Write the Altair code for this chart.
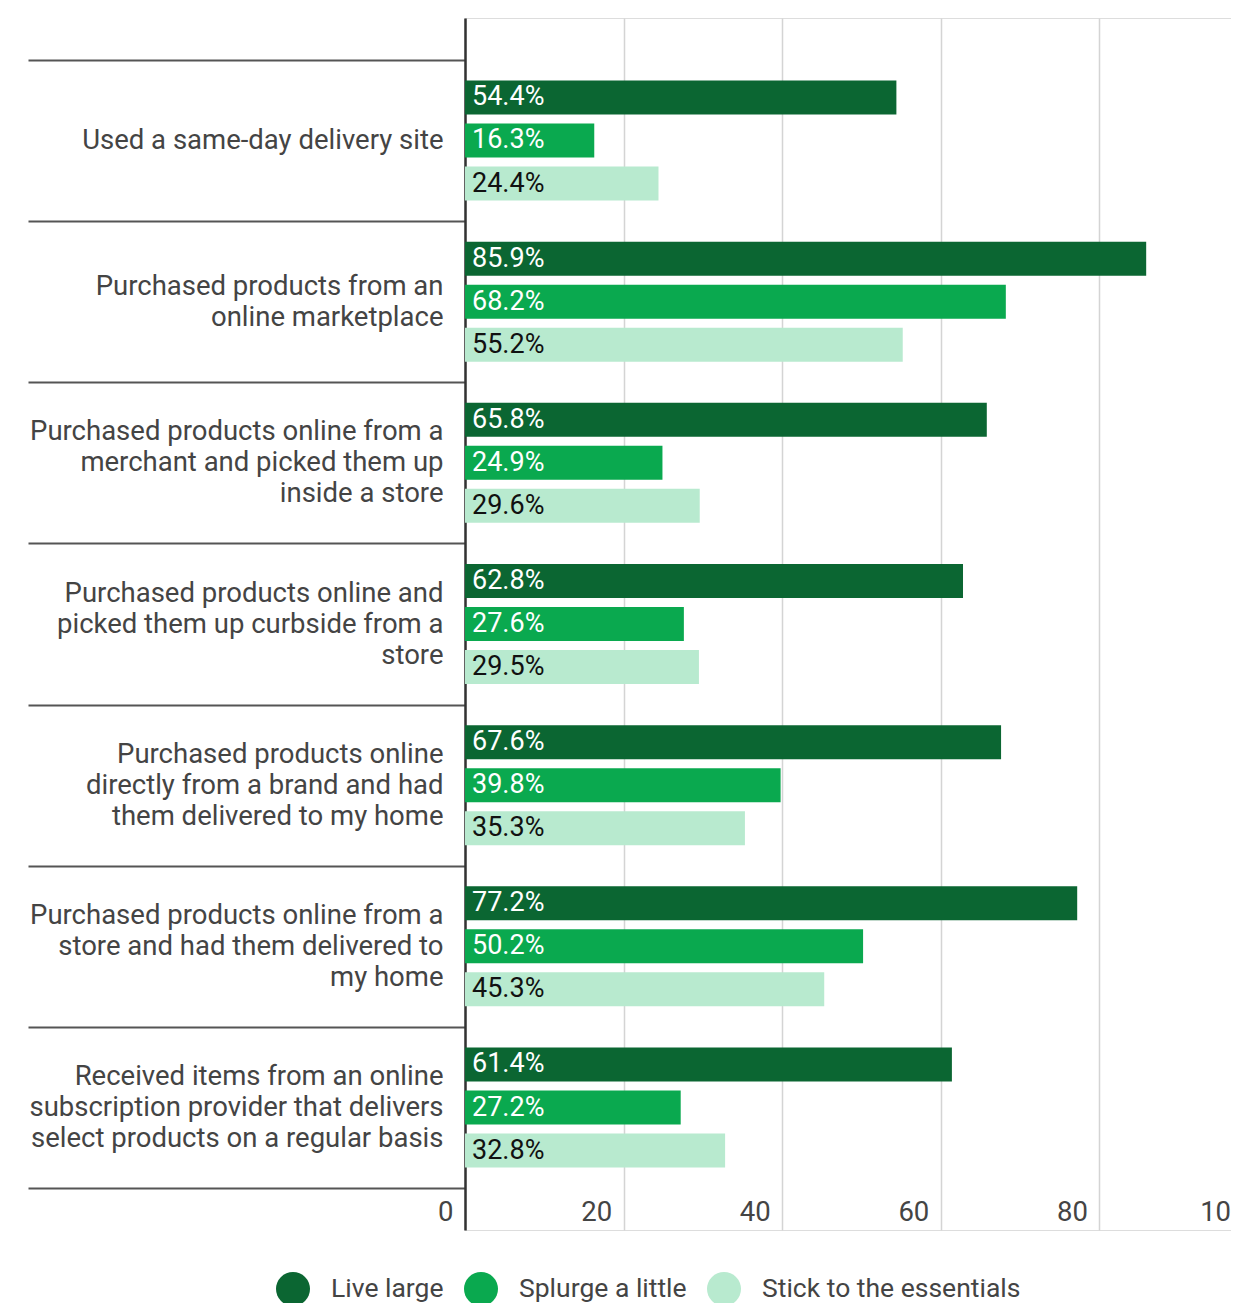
import altair as alt
import pandas as pd

categories = [
    "Used a same-day delivery site",
    "Purchased products from an|online marketplace",
    "Purchased products online from a|merchant and picked them up|inside a store",
    "Purchased products online and|picked them up curbside from a|store",
    "Purchased products online|directly from a brand and had|them delivered to my home",
    "Purchased products online from a|store and had them delivered to|my home",
    "Received items from an online|subscription provider that delivers|select products on a regular basis",
]
series = ["Live large", "Splurge a little", "Stick to the essentials"]
live_large = [54.4, 85.9, 65.8, 62.8, 67.6, 77.2, 61.4]
splurge_a_little = [16.3, 68.2, 24.9, 27.6, 39.8, 50.2, 27.2]
stick_to_essentials = [24.4, 55.2, 29.6, 29.5, 35.3, 45.3, 32.8]
colors = ["#0b6632", "#0aa94f", "#b8eacf"]
label_colors = ["#ffffff", "#ffffff", "#111111"]
x_ticks = [0, 20, 40, 60, 80, 100]

rows = []
for i, c in enumerate(categories):
    for s, vals, tc in zip(series, [live_large, splurge_a_little, stick_to_essentials], label_colors):
        rows.append({"category": c, "series": s, "value": vals[i],
                     "label": f"{vals[i]:.1f}%", "tcolor": tc})
df = pd.DataFrame(rows)

FONT = "Roboto"
LINE_H = 31

y_enc = alt.Y(
    "category:N",
    sort=categories,
    scale=alt.Scale(paddingInner=0, paddingOuter=0.26),
    axis=alt.Axis(
        title=None,
        tickBand="extent",
        tickSize=437,
        tickColor="#555555",
        tickWidth=2,
        domainColor="#333333",
        domainWidth=2.5,
        labelPadding=-415,
        labelFont=FONT,
        labelFontSize=27.5,
        labelColor="#444444",
        labelLineHeight=LINE_H,
        labelLimit=0,
        labelExpr="split(datum.label, '|')",
        labelOffset=alt.ExprRef(
            f"-(length(split(datum.value, '|')) - 1) * {LINE_H / 2}"
        ),
        grid=False,
    ),
)
yoff_enc = alt.YOffset(
    "series:N", sort=series,
    scale=alt.Scale(paddingInner=0.21, paddingOuter=0.478),
)
x_enc = alt.X(
    "value:Q",
    scale=alt.Scale(domain=[0, 100], range=[0, 793], nice=False),
    axis=alt.Axis(
        title=None,
        values=x_ticks,
        grid=True,
        gridColor="#d4d4d4",
        gridWidth=1.5,
        domain=False,
        ticks=False,
        labelAlign="right",
        labelOffset=-12,
        labelBaseline="middle",
        labelPadding=-18,
        labelFont=FONT,
        labelFontSize=27.5,
        labelColor="#444444",
    ),
)

bars = alt.Chart(df).mark_bar().encode(
    x=x_enc,
    y=y_enc,
    yOffset=yoff_enc,
    color=alt.Color(
        "series:N",
        sort=series,
        scale=alt.Scale(domain=series, range=colors),
        legend=alt.Legend(
            title=None,
            orient="none",
            legendX=-189,
            legendY=1254,
            direction="horizontal",
            symbolType="circle",
            symbolSize=1156,
            symbolStrokeWidth=0,
            labelFont=FONT,
            labelFontSize=26.5,
            labelColor="#444444",
            labelLimit=0,
            labelOffset=21,
            columnPadding=20,
            padding=0,
        ),
    ),
)

labels = alt.Chart(df).mark_text(
    align="left", baseline="middle", dx=7, font=FONT, fontSize=27
).encode(
    x=alt.datum(0),
    y=alt.Y("category:N", sort=categories),
    yOffset=alt.YOffset("series:N", sort=series),
    text="label:N",
    color=alt.Color("tcolor:N", scale=None),
)

chart = alt.layer(bars, labels).properties(
    width=766,
    height=1212,
    autosize=alt.AutoSizeParams(type="none"),
    padding={"left": 457, "top": 10, "right": 0, "bottom": 73},
).configure_view(stroke=None).configure(background="white")

chart.save("out.html", embed_options={"renderer": "svg", "actions": False})
